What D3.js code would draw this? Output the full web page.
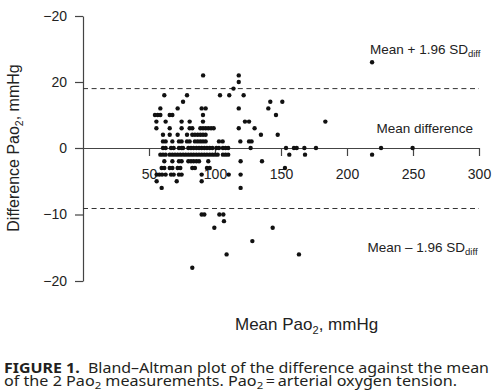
<!DOCTYPE html>
<html><head><meta charset="utf-8">
<script src="https://cdn.jsdelivr.net/npm/d3@7"></script>
<style>
html,body{margin:0;padding:0;background:#fff;}
svg{display:block;}
</style>
</head><body>
<svg id="chart" width="500" height="391"></svg>
<script>
// ---- data ----
// difference levels (as labelled on the y axis) and mean PaO2 values of the points on each level
const diffLevels = [26, 22, 20, 18, 16, 14, 12, 10, 8, 6, 4, 2, 0, -1, -2, -3, -4, -5, -6, -10, -11, -12, -14, -16, -18];
const meansAtLevel = [
  [219],
  [91, 118],
  [118],
  [114],
  [61.6, 78.8, 103.8, 110.8, 121.7],
  [75.8, 141.9, 151],
  [58.6, 71.7, 89.9, 92.9, 118, 140.4],
  [54.5, 56.6, 58.6, 65.7, 67.7, 90.9, 146.2],
  [55.6, 62.6, 74.7, 80.8, 90.9, 122.7, 125.8, 183.6],
  [55.6, 65.7, 74.7, 80.8, 82.8, 88.9, 90.9, 92.9, 94.9, 97, 99, 118, 130],
  [60.6, 65.7, 71.7, 78.8, 82.8, 84.8, 86.9, 88.9, 90.9, 92.9, 134.8, 147.5],
  [60.6, 62.6, 67.7, 72.7, 74.7, 78.8, 80.8, 84.8, 86.9, 88.9, 90.9, 92.9, 103, 105.8, 119.2, 125.8, 127.7],
  [60.6, 62.6, 66.7, 68.7, 72.7, 74.7, 75.8, 79.8, 81.8, 83.8, 85.9, 87.9, 89.9, 91.9, 93.9, 96, 98, 101, 103, 106, 108, 110, 127, 153.8, 159.8, 161.9, 167.7, 176.5, 225.8, 249.7],
  [58.6, 60.6, 62.6, 65.7, 67.7, 69.7, 71.7, 73.7, 75.8, 77.8, 79.8, 81.8, 83.8, 85.9, 87.9, 89.9, 91.9, 93.9, 96, 98, 100, 102, 106, 108, 110, 156.3, 168.2, 219],
  [61.6, 67.7, 72.7, 74.7, 79.8, 81.8, 83.8, 85.9, 87.9, 94.9, 119.4, 135.6],
  [59.6, 61.6, 65.7, 67.7, 71.7, 73.7, 82.8, 84.8, 93.9, 96, 153],
  [55.8, 57.8, 59.9, 62.6, 66.7, 68.7, 72.7, 74.7, 89.9, 110.4, 119.4],
  [55.8, 71, 89.9],
  [59.6, 119.4],
  [89.9, 91.9, 103.3, 106.3],
  [106.8],
  [99.5, 143.7],
  [128.3],
  [108.8, 163.6],
  [82.8]
];
const upperLimit = 18;
const lowerLimit = -9.1;
const xTickValues = [50, 100, 150, 200, 250, 300];
const yTickValues = [40, 20, 0, -10, -20];
const yTickLabels = ["\u221220", "20", "0", "\u221210", "\u221220"];

const points = [];
diffLevels.forEach((d, i) => meansAtLevel[i].forEach(m => points.push({mean: m, diff: d})));

// ---- drawing ----
const svg = d3.select("#chart");
const FONT = "'Liberation Sans', Arial, Helvetica, sans-serif";
const INK = "#222";

const x = d3.scaleLinear().domain([0, 300]).range([83, 479]);
// the printed axis is not uniform: follow the tick positions of the figure
const y = d3.scaleLinear().domain([40, 0, -20]).range([16, 148, 281]);

// y axis
const yAxis = svg.append("g").attr("transform", `translate(${x(0)},0)`)
  .call(d3.axisLeft(y).tickValues(yTickValues)
    .tickFormat((d, i) => yTickLabels[i]).tickSize(8).tickSizeOuter(0).tickPadding(8));
// x axis along zero
const xAxis = svg.append("g").attr("transform", `translate(0,${y(0)})`)
  .call(d3.axisBottom(x).tickValues(xTickValues).tickSize(8).tickSizeOuter(0).tickPadding(13));

[yAxis, xAxis].forEach(g => {
  g.selectAll("path, line").attr("stroke", "#444").attr("stroke-width", 1.2);
  g.selectAll("text").attr("font-family", FONT).attr("font-size", 14).attr("fill", INK);
});

// limits of agreement
[upperLimit, lowerLimit].forEach(v => {
  svg.append("line")
    .attr("x1", x(0)).attr("x2", x(300))
    .attr("y1", y(v)).attr("y2", y(v))
    .attr("stroke", "#333").attr("stroke-width", 1)
    .attr("stroke-dasharray", "5,3.6");
});

// points
svg.append("g").selectAll("circle").data(points).join("circle")
  .attr("cx", d => x(d.mean)).attr("cy", d => y(d.diff))
  .attr("r", 2.2).attr("fill", "#111");

// annotations
function label(txt, sub, px, py) {
  const t = svg.append("text").attr("x", px).attr("y", py)
    .attr("font-family", FONT).attr("font-size", 13.5).attr("fill", INK);
  t.append("tspan").text(txt);
  if (sub) t.append("tspan").attr("font-size", 9.5).attr("dy", 3).text(sub);
}
label("Mean + 1.96 SD", "diff", 370, 54);
label("Mean difference", null, 376.5, 133);
label("Mean \u2013 1.96 SD", "diff", 367.5, 252);

// axis titles
const xt = svg.append("text").attr("x", 235).attr("y", 330)
  .attr("font-family", FONT).attr("font-size", 17).attr("fill", INK);
xt.append("tspan").text("Mean Pao");
xt.append("tspan").attr("font-size", 11).attr("dy", 4).text("2");
xt.append("tspan").attr("dy", -4).text(", mmHg");

const yt = svg.append("text").attr("transform", "translate(19,148) rotate(-90)")
  .attr("text-anchor", "middle")
  .attr("font-family", FONT).attr("font-size", 16).attr("fill", INK);
yt.append("tspan").text("Difference Pao");
yt.append("tspan").attr("font-size", 10.5).attr("dy", 4).text("2");
yt.append("tspan").attr("dy", -4).text(", mmHg");

// caption
const CAP = "'Noto Sans', 'Open Sans', sans-serif";
const c1 = svg.append("text").attr("x", 4).attr("y", 372.5)
  .attr("font-family", CAP).attr("font-size", 13.5).attr("fill", "#231f20")
  .attr("textLength", 485).attr("lengthAdjust", "spacingAndGlyphs");
c1.append("tspan").attr("font-weight", "bold").text("FIGURE 1.");
c1.append("tspan").text("\u00a0 Bland\u2013Altman plot of the difference against the mean");

const c2 = svg.append("text").attr("x", 4).attr("y", 386)
  .attr("font-family", CAP).attr("font-size", 13.5).attr("fill", "#231f20")
  .attr("textLength", 453).attr("lengthAdjust", "spacingAndGlyphs");
c2.append("tspan").text("of the 2 Pao");
c2.append("tspan").attr("font-size", 9.5).attr("dy", 2.5).text("2");
c2.append("tspan").attr("dy", -2.5).text(" measurements. Pao");
c2.append("tspan").attr("font-size", 9.5).attr("dy", 2.5).text("2");
c2.append("tspan").attr("dy", -2.5).text("\u2009=\u2009arterial oxygen tension.");
</script>
</body></html>
